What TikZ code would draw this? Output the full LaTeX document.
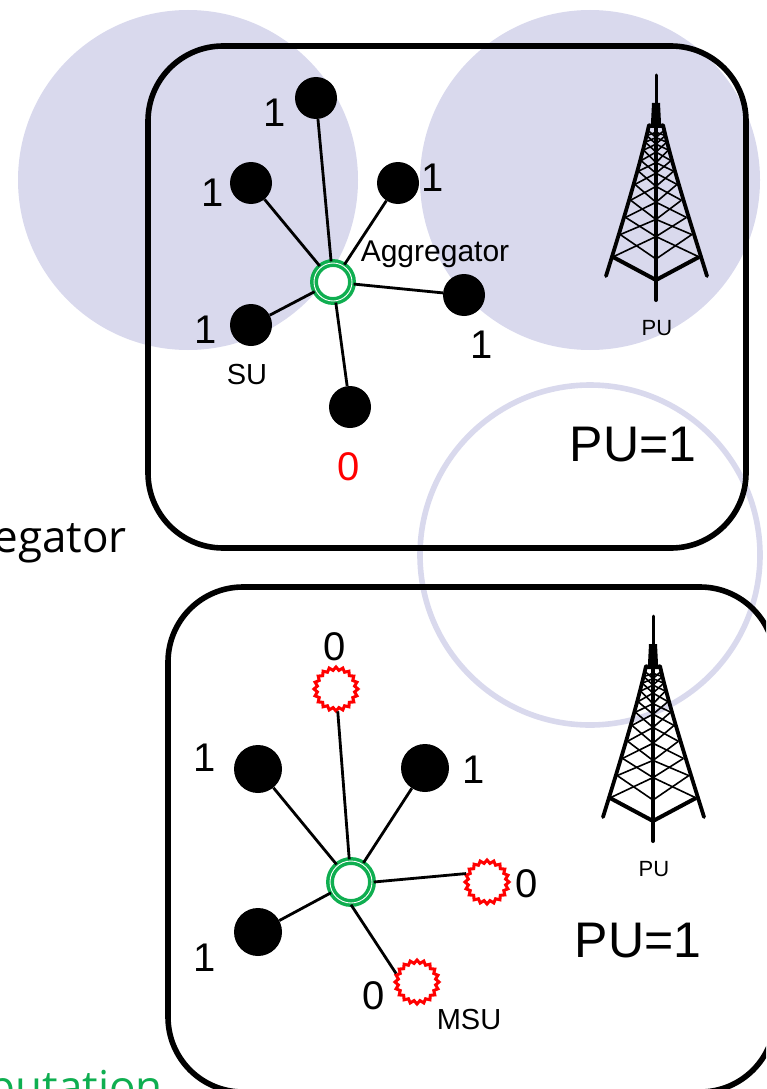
\documentclass[tikz,border=0pt]{standalone}
\usepackage{fontspec}
\setmainfont{Liberation Sans}
\newfontfamily\handfont{Open Sans}
\usetikzlibrary{shapes.geometric}
\definecolor{lav}{HTML}{D9D9ED}
\definecolor{grn}{HTML}{0FAE50}
\newcommand{\fsz}[1]{\fontsize{#1}{#1}\selectfont}
\tikzset{
  x=1pt,y=-1pt,
  declare function={lx(\a)=27.05*\a+9.2*\a*\a;},
  su/.style={circle,fill=black,inner sep=0pt,minimum size=#1},
  agg/.style={circle,draw=grn,fill=white,double=white,double distance=0.9pt,line width=3.5pt,inner sep=0pt,minimum size=#1},
  msu/.style={star,star points=20,star point ratio=1.17,draw=red,fill=white,line width=3pt,inner sep=0pt,minimum size=44pt},
  link/.style={line width=2.8pt,black},
  box/.style={line width=5.6pt,rounded corners=75pt},
  lbl/.style={inner sep=0pt,font=\fsz{40}},
  big/.style={inner sep=0pt,font=\fsz{50}},
  mid/.style={inner sep=0pt,font=\fsz{30}},
  small/.style={inner sep=0pt,font=\fsz{29}},
  tiny/.style={inner sep=0pt,font=\fsz{22}},
  tower/.pic={
    \foreach \a/\b in {1/.83,.83/.70,.70/.57,.57/.45,.45/.35,.35/.27,.27/.19,.19/.13,.13/.08,.08/.04}{
      \draw[line width=1.6pt] ({649-lx(\a)},{125+132*\a}) -- (656,{127+132*\b});
      \draw[line width=1.6pt] ({649-lx(\b)},{125+132*\b}) -- (656,{127+132*\a});
      \draw[line width=1.6pt] ({663+lx(\a)},{125+132*\a}) -- (656,{127+132*\b});
      \draw[line width=1.6pt] ({663+lx(\b)},{125+132*\b}) -- (656,{127+132*\a});
    }
    \draw[line width=3.8pt,line cap=round] (649,125) .. controls (640,165) and (625,215) .. (606,276);
    \draw[line width=3.8pt,line cap=round] (663,125) .. controls (672,165) and (688,215) .. (707,276);
    \draw[line width=4pt] (613,257) -- (656,280) -- (699,257);
    \draw[line width=4pt,line cap=round] (656,105) -- (656,300);
    \draw[line width=3pt,line cap=round] (656,75) -- (656,105);
    \fill (652,103) -- (660,103) -- (661,123) -- (664,128) -- (648,128) -- (651,123) -- cycle;
  }
}
\begin{document}
\begin{tikzpicture}
\useasboundingbox (0,0) rectangle (766,1089);
\clip (0,0) rectangle (766,1089);
% coverage areas
\fill[lav] (188,180) circle (170);
\fill[lav] (590,180) circle (170);
\draw[lav,line width=5.6pt] (590,555) circle (170);
% boxes
\draw[box] (148,46) rectangle (746,548);
\draw[box] (168,587) rectangle (775,1092);
% towers
\pic at (0,0) {tower};
\pic at (-3,541) {tower};
% top network
\node[agg=38pt] (ta) at (333,282) {};
\node[su=42pt] (t1) at (316,98) {};
\node[su=42pt] (t2) at (251,183) {};
\node[su=42pt] (t3) at (398,183) {};
\node[su=42pt] (t4) at (464,295) {};
\node[su=42pt] (t5) at (251,325) {};
\node[su=42pt] (t6) at (350,407) {};
\foreach \n in {t1,t2,t3,t4,t5,t6} \draw[link] (ta) -- (\n);
% bottom network
\node[agg=42pt] (ba) at (351,882) {};
\node[su=48pt] (b1) at (258,769) {};
\node[su=48pt] (b2) at (425,768) {};
\node[su=48pt] (b3) at (258,932) {};
\node[msu] (s1) at (336,689) {};
\node[msu] (s2) at (487,882) {};
\node[msu] (s3) at (417,982) {};
\foreach \n in {b1,b2,s1} \draw[link] (ba) -- (\n);
\draw[link] (b3) -- (ba);
\draw[link] (ba.east) -- (s2.158);
\draw[link] (ba.south) -- (s3.158);
% top labels
\node[lbl] (l1) at (275,113) {1};
\node[lbl] (l2) at (213,193) {1};
\node[lbl] (l3) at (433,178) {1};
\node[lbl] (l4) at (206,330) {1};
\node[lbl] (l5) at (482,345) {1};
\node[lbl,text=red] (l6) at (349,467) {0};
\node[mid] (l7) at (435,254) {Aggregator};
\node[small] (l8) at (247,375) {SU};
\node[tiny] (l9) at (657,328) {PU};
\node[big] (l10) at (633,445) {PU=1};
% bottom labels
\node[lbl] (m1) at (335,647) {0};
\node[lbl] (m2) at (205,758) {1};
\node[lbl] (m3) at (474,770) {1};
\node[lbl] (m4) at (205,958) {1};
\node[lbl] (m5) at (527,884) {0};
\node[lbl] (m6) at (374,996) {0};
\node[small] (m7) at (469,1020) {MSU};
\node[tiny] (m8) at (654,869) {PU};
\node[big] (m9) at (638,941) {PU=1};
% clipped side texts
\node[inner sep=0pt,anchor=base east,font=\handfont\fsz{44}] (e1) at (127,552) {egator};
\node[inner sep=0pt,anchor=base east,font=\handfont\fsz{44},text=grn] (e2) at (163,1102) {putation};
\end{tikzpicture}
\end{document}
